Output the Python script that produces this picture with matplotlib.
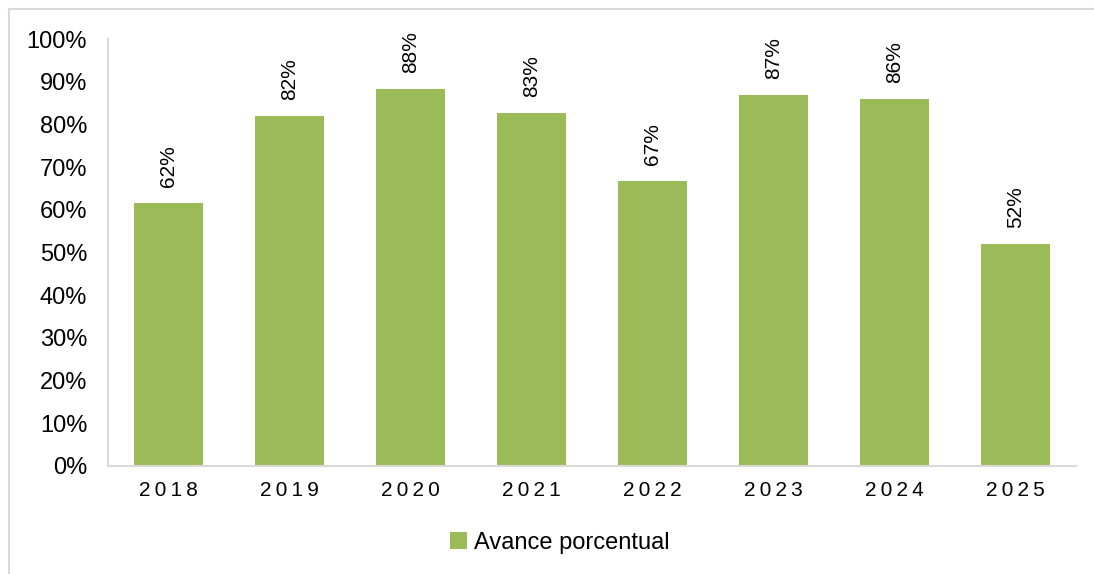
import matplotlib
matplotlib.use("Agg")
import matplotlib.pyplot as plt
from matplotlib.patches import Patch
from matplotlib.lines import Line2D

plt.rcParams['font.family'] = ['Liberation Sans', 'DejaVu Sans']

years = ["2018", "2019", "2020", "2021", "2022", "2023", "2024", "2025"]
values = [0.616, 0.82, 0.883, 0.826, 0.667, 0.869, 0.859, 0.52]
series_name = "Avance porcentual"
yticks = [0, 0.1, 0.2, 0.3, 0.4, 0.5, 0.6, 0.7, 0.8, 0.9, 1.0]

W, H = 1094, 574
fig = plt.figure(figsize=(W / 100, H / 100), dpi=100)
ax = fig.add_axes([108 / W, 1 - 466 / H, (1076 - 108) / W, (466 - 39) / H])

green = "#9BBB59"
grey = "#D9D9D9"
x = list(range(len(years)))
bars = ax.bar(x, values, width=0.57, color=green)

for xi, v in zip(x, values):
    ax.annotate(f"{round(v * 100):.0f}%", (xi, v), xytext=(0, 11.5), textcoords="offset points",
                rotation=90, ha="center", va="bottom", fontsize=15)

ax.set_xlim(-0.5, len(years) - 0.5)
ax.set_ylim(0, 1.0)
ax.set_yticks(yticks)
ax.set_yticklabels([f"{round(t * 100)}%" for t in yticks], fontsize=17)
ax.set_xticks(x)
ax.set_xticklabels(["\u2009".join(y) for y in years], fontsize=15)
ax.tick_params(axis="both", length=0)
ax.tick_params(axis="y", pad=15)
ax.tick_params(axis="x", pad=11)
for s in ["top", "right"]:
    ax.spines[s].set_visible(False)
for s in ["left", "bottom"]:
    ax.spines[s].set_color(grey)
    ax.spines[s].set_linewidth(1.5)

# chart border (left & top visible)
fig.add_artist(Line2D([9 / W, 9 / W], [0, 1 - 9 / H], color=grey, lw=1.5, transform=fig.transFigure))
fig.add_artist(Line2D([9 / W, 1], [1 - 9 / H, 1 - 9 / H], color=grey, lw=1.5, transform=fig.transFigure))

fig.legend(handles=[Patch(facecolor=green, label=series_name)], loc="center",
           bbox_to_anchor=(560 / W, 1 - 543 / H), frameon=False, fontsize=17,
           handlelength=0.7, handleheight=0.7, handletextpad=0.3)

fig.savefig("out.png", dpi=100)
